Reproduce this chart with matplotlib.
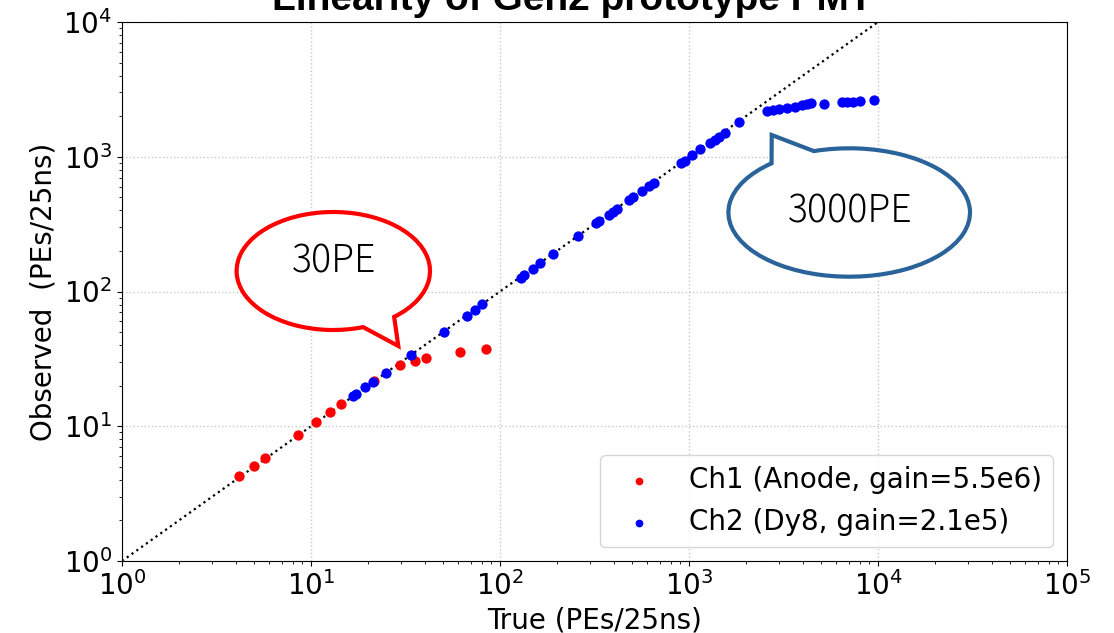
import numpy as np
import matplotlib
matplotlib.use("Agg")
import matplotlib.pyplot as plt
from matplotlib.path import Path
from matplotlib.patches import PathPatch
from matplotlib.transforms import Affine2D

# Ch1 anode readout
ch1_true = [4.18, 4.99, 5.73, 8.57, 10.6, 12.6, 14.5, 21.5, 29.6, 35.5, 40.6, 61.2, 84.3]
ch1_obs = [4.27, 5.07, 5.80, 8.65, 10.7, 12.8, 14.7, 21.8, 28.6, 30.5, 31.9, 35.3, 37.4]

# Ch2 dynode 8 readout
ch2_true = [16.7, 17.3, 19.4, 21.2, 24.9, 33.7, 50.7, 66.6, 73.5, 80.7,
            128.6, 133.9, 148.6, 163, 190, 259, 322, 335, 376, 394, 414,
            483, 507, 564, 617, 653, 907, 956, 1040, 1150, 1290, 1370, 1440,
            1550, 1840,
            2595, 2793, 2993, 3285, 3637, 3948, 4195, 4402, 5177, 6424,
            6823, 7395, 8035, 9524]
ch2_obs = [16.8, 17.3, 19.4, 21.4, 24.9, 33.9, 50.3, 66.1, 73.2, 80.7,
           126, 132, 147.6, 162, 190, 258, 320, 331, 369, 390, 409,
           476, 501, 555, 605, 640, 892, 933, 1035, 1150, 1270, 1340, 1410,
           1510, 1810,
           2178, 2219, 2243, 2281, 2344, 2403, 2444, 2486, 2455, 2529,
           2542, 2570, 2600, 2627]

ch1_label = "Ch1 (Anode, gain=5.5e6)"
ch2_label = "Ch2 (Dy8, gain=2.1e5)"

W, H = 1114, 633
plt.rcParams['font.size'] = 20

fig = plt.figure(figsize=(W / 100, H / 100), dpi=100)
ax = fig.add_axes([122 / W, 1 - 561 / H, (1067 - 122) / W, (561 - 22) / H])

diag = np.array([1, 1e5])
ax.plot(diag, diag, ls=':', color='k', lw=1.6, zorder=1)
ax.scatter(ch1_true, ch1_obs, s=55, color='red', lw=0, label=ch1_label, zorder=3)
ax.scatter(ch2_true, ch2_obs, s=55, color='blue', lw=0, label=ch2_label, zorder=3)

ax.set_xscale('log')
ax.set_yscale('log')
ax.set_xlim(1, 1e5)
ax.set_ylim(1, 1e4)
ax.grid(True, which='major', ls=':', color='#c8c8c8', lw=1)
ax.set_xlabel("True (PEs/25ns)")
ax.set_ylabel("Observed  (PEs/25ns)")
ax.legend(loc='lower right', markerscale=0.75)

fig.text(572 / W, 1 - 10 / H, "Linearity of Gen2 prototype PMT", ha='center',
         va='baseline', fontsize=28, fontweight='bold', family='Liberation Sans')

# speech bubbles, laid out in pixel units (y up)
px = Affine2D().scale(1 / W, 1 / H) + fig.transFigure


def bubble(cx, cy, a, b, t1, t2, tip, color, text, ty):
    arc = Path.arc(t1, t2)
    verts = arc.vertices * [a, b] + [cx, cy]
    verts = np.vstack([verts, tip, verts[0], verts[0]])
    codes = list(arc.codes) + [Path.LINETO, Path.LINETO, Path.CLOSEPOLY]
    patch = PathPatch(Path(verts, codes), facecolor='white', edgecolor=color,
                      lw=3, transform=px, clip_on=False, zorder=6)
    ax.add_patch(patch)
    ax.text(cx + 1, ty, text, transform=px, ha='center', va='center',
            fontsize=27, family=['Noto Sans CJK JP', 'DejaVu Sans'],
            fontweight='light', zorder=7, clip_on=False)


bubble(333.3, H - 271, 96.7, 59, -51, 288, (398.3, H - 346), 'red', "30PE", H - 262)
bubble(849.2, H - 212.5, 120.8, 64.2, 130, 467, (771.7, H - 135), '#2a6399',
       "3000PE", H - 212)

fig.savefig("out.png", dpi=100)
